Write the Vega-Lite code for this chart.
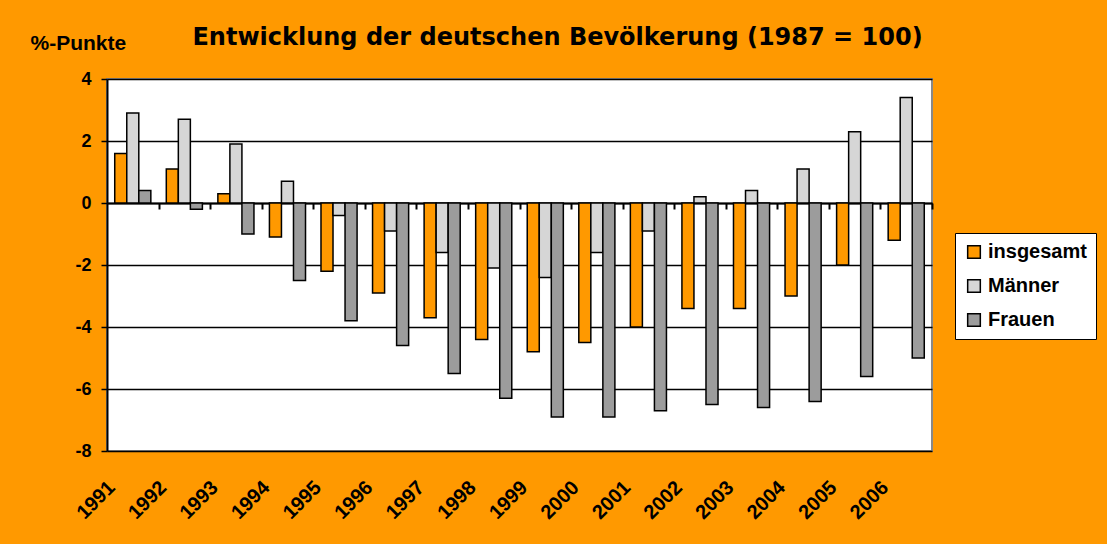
{
  "$schema": "https://vega.github.io/schema/vega-lite/v6.json",
  "width": 825,
  "height": 372,
  "autosize": "none",
  "padding": {"left": 107, "top": 79, "right": 175, "bottom": 93},
  "background": "#FF9900",
  "title": {
    "text": "Entwicklung der deutschen Bevölkerung (1987 = 100)",
    "font": "DejaVu Sans",
    "fontSize": 24,
    "fontWeight": "bold",
    "color": "black",
    "anchor": "middle",
    "dx": 38,
    "offset": -18
  },
  "config": {
    "view": {"fill": "white", "stroke": "#888888", "strokeWidth": 2}
  },
  "data": {
    "values": [
      {"year": "1991", "series": "insgesamt", "value": 1.6},
      {"year": "1991", "series": "Männer", "value": 2.9},
      {"year": "1991", "series": "Frauen", "value": 0.4},
      {"year": "1992", "series": "insgesamt", "value": 1.1},
      {"year": "1992", "series": "Männer", "value": 2.7},
      {"year": "1992", "series": "Frauen", "value": -0.2},
      {"year": "1993", "series": "insgesamt", "value": 0.3},
      {"year": "1993", "series": "Männer", "value": 1.9},
      {"year": "1993", "series": "Frauen", "value": -1.0},
      {"year": "1994", "series": "insgesamt", "value": -1.1},
      {"year": "1994", "series": "Männer", "value": 0.7},
      {"year": "1994", "series": "Frauen", "value": -2.5},
      {"year": "1995", "series": "insgesamt", "value": -2.2},
      {"year": "1995", "series": "Männer", "value": -0.4},
      {"year": "1995", "series": "Frauen", "value": -3.8},
      {"year": "1996", "series": "insgesamt", "value": -2.9},
      {"year": "1996", "series": "Männer", "value": -0.9},
      {"year": "1996", "series": "Frauen", "value": -4.6},
      {"year": "1997", "series": "insgesamt", "value": -3.7},
      {"year": "1997", "series": "Männer", "value": -1.6},
      {"year": "1997", "series": "Frauen", "value": -5.5},
      {"year": "1998", "series": "insgesamt", "value": -4.4},
      {"year": "1998", "series": "Männer", "value": -2.1},
      {"year": "1998", "series": "Frauen", "value": -6.3},
      {"year": "1999", "series": "insgesamt", "value": -4.8},
      {"year": "1999", "series": "Männer", "value": -2.4},
      {"year": "1999", "series": "Frauen", "value": -6.9},
      {"year": "2000", "series": "insgesamt", "value": -4.5},
      {"year": "2000", "series": "Männer", "value": -1.6},
      {"year": "2000", "series": "Frauen", "value": -6.9},
      {"year": "2001", "series": "insgesamt", "value": -4.0},
      {"year": "2001", "series": "Männer", "value": -0.9},
      {"year": "2001", "series": "Frauen", "value": -6.7},
      {"year": "2002", "series": "insgesamt", "value": -3.4},
      {"year": "2002", "series": "Männer", "value": 0.2},
      {"year": "2002", "series": "Frauen", "value": -6.5},
      {"year": "2003", "series": "insgesamt", "value": -3.4},
      {"year": "2003", "series": "Männer", "value": 0.4},
      {"year": "2003", "series": "Frauen", "value": -6.6},
      {"year": "2004", "series": "insgesamt", "value": -3.0},
      {"year": "2004", "series": "Männer", "value": 1.1},
      {"year": "2004", "series": "Frauen", "value": -6.4},
      {"year": "2005", "series": "insgesamt", "value": -2.0},
      {"year": "2005", "series": "Männer", "value": 2.3},
      {"year": "2005", "series": "Frauen", "value": -5.6},
      {"year": "2006", "series": "insgesamt", "value": -1.2},
      {"year": "2006", "series": "Männer", "value": 3.4},
      {"year": "2006", "series": "Frauen", "value": -5.0}
    ]
  },
  "layer": [
    {
      "mark": {"type": "bar", "opacity": 0},
      "encoding": {
        "x": {
          "field": "year",
          "type": "nominal",
          "scale": {"paddingInner": 0.3, "paddingOuter": 0.15},
          "axis": {
            "orient": "bottom",
            "offset": -248,
            "title": null,
            "labels": false,
            "grid": false,
            "domainColor": "black",
            "domainWidth": 2,
            "tickColor": "black",
            "tickWidth": 2,
            "tickSize": 6,
            "tickOffset": 25.8
          }
        },
        "y": {"datum": 0, "type": "quantitative", "scale": {"domain": [-8, 4], "nice": false, "zero": false}}
      }
    },
    {
      "mark": {"type": "bar", "stroke": "black", "strokeWidth": 1.5},
      "encoding": {
        "x": {
          "field": "year",
          "type": "nominal",
          "axis": {
            "orient": "bottom",
            "title": null,
            "domain": false,
            "ticks": false,
            "labelAngle": -45,
            "labelAlign": "right",
            "labelBaseline": "top",
            "labelOffset": -28,
            "labelPadding": 26,
            "labelFont": "Liberation Sans",
            "labelFontSize": 20,
            "labelFontWeight": "bold",
            "labelColor": "black"
          }
        },
        "xOffset": {
          "field": "series",
          "type": "nominal",
          "sort": ["insgesamt", "Männer", "Frauen"],
          "scale": {"paddingInner": 0, "paddingOuter": 0}
        },
        "y": {
          "field": "value",
          "type": "quantitative",
          "axis": {
            "title": "%-Punkte",
            "titleAngle": 0,
            "titleAlign": "left",
            "titleBaseline": "middle",
            "titleX": -77,
            "titleY": -36,
            "titleFont": "Liberation Sans",
            "titleFontSize": 21,
            "titleFontWeight": "bold",
            "titleColor": "black",
            "values": [-8, -6, -4, -2, 0, 2, 4],
            "labelExpr": "'' + datum.value",
            "grid": true,
            "gridColor": "black",
            "gridWidth": 1.5,
            "gridOpacity": 1,
            "domainColor": "black",
            "domainWidth": 2,
            "tickColor": "black",
            "tickWidth": 1.5,
            "tickSize": 6,
            "labelFont": "Liberation Sans",
            "labelFontSize": 18,
            "labelFontWeight": "bold",
            "labelColor": "black",
            "labelPadding": 10
          }
        },
        "color": {
          "field": "series",
          "type": "nominal",
          "sort": ["insgesamt", "Männer", "Frauen"],
          "scale": {
            "domain": ["insgesamt", "Männer", "Frauen"],
            "range": ["#FF9900", "#D6D6D6", "#9C9C9C"]
          },
          "legend": {
            "orient": "none",
            "legendX": 848,
            "legendY": 154,
            "title": null,
            "fillColor": "white",
            "strokeColor": "black",
            "padding": 9,
            "symbolType": "square",
            "symbolSize": 160,
            "symbolStrokeColor": "black",
            "symbolStrokeWidth": 1.5,
            "symbolOpacity": 1,
            "labelFont": "Liberation Sans",
            "labelFontSize": 20,
            "labelFontWeight": "bold",
            "labelColor": "black",
            "labelOffset": 4,
            "rowPadding": 14
          }
        }
      }
    }
  ],
  "resolve": {"axis": {"x": "independent"}}
}
